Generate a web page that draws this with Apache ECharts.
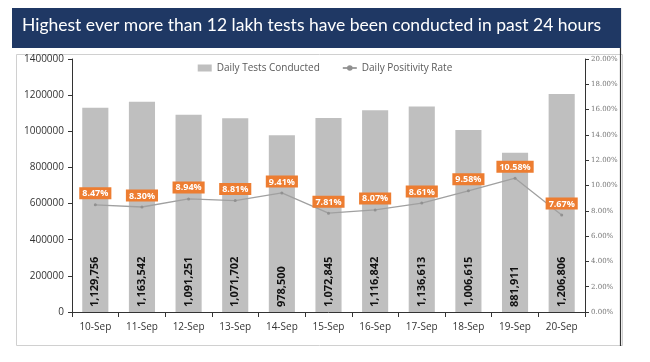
<!DOCTYPE html>
<html><head><meta charset="utf-8">
<script src="https://cdn.jsdelivr.net/npm/echarts@6/dist/echarts.min.js"></script>
<style>html,body{margin:0;padding:0;background:#fff;}#c{width:650px;height:362px;}</style>
</head><body><div id="c"></div>
<script>
const categories = ['10-Sep','11-Sep','12-Sep','13-Sep','14-Sep','15-Sep','16-Sep','17-Sep','18-Sep','19-Sep','20-Sep'];
const dailyTests = [1129756,1163542,1091251,1071702,978500,1072845,1116842,1136613,1006615,881911,1206806];
const positivityRate = [8.47,8.30,8.94,8.81,9.41,7.81,8.07,8.61,9.58,10.58,7.67];
const titleText = 'Highest ever more than 12 lakh tests have been conducted in past 24 hours';

const chart = echarts.init(document.getElementById('c'));
chart.setOption({
  animation:false,
  backgroundColor:'#fff',
  graphic:[
    {type:'rect', left:14, top:52, shape:{width:606, height:291}, style:{fill:'none', stroke:'#d0d0d0', lineWidth:1}},
    {type:'line', shape:{x1:620.5,y1:8,x2:620.5,y2:346}, style:{stroke:'#333', lineWidth:1.2}},
    {type:'rect', left:12, top:8, shape:{width:609, height:40}, style:{fill:'#1F3864'}},
    {type:'text', left:22, top:16, style:{text:titleText, fill:'#fff', font:'17.5px Lato, sans-serif'}}
  ],
  legend:{
    top:58, left:'center',
    itemWidth:14, itemHeight:7, itemGap:22,
    textStyle:{color:'#595959', fontSize:10, fontFamily:'"Open Sans", sans-serif'},
    data:[{name:'Daily Tests Conducted', icon:'rect'},{name:'Daily Positivity Rate'}]
  },
  grid:{left:72, right:65, top:59, bottom:50},
  xAxis:{
    type:'category', data:categories, boundaryGap:true,
    axisLine:{lineStyle:{color:'#333'}},
    axisTick:{show:true, lineStyle:{color:'#333'}},
    axisLabel:{color:'#333', fontSize:10, fontFamily:'"Open Sans", sans-serif', margin:10}
  },
  yAxis:[
    {type:'value', min:0, max:1400000, interval:200000,
     axisLine:{show:true, lineStyle:{color:'#333'}},
     axisTick:{show:true, length:4, lineStyle:{color:'#333'}},
     splitLine:{show:false},
     axisLabel:{color:'#333', fontSize:10, fontFamily:'"Open Sans", sans-serif', margin:8, formatter:v=>String(v)}},
    {type:'value', min:0, max:20, interval:2, position:'right',
     axisLine:{show:true, lineStyle:{color:'#333'}},
     axisTick:{show:true, length:4, lineStyle:{color:'#333'}},
     splitLine:{show:false},
     axisLabel:{color:'#777', fontSize:7, fontFamily:'"DejaVu Serif", serif', margin:6, formatter:v=>v.toFixed(2)+'%'}}
  ],
  series:[
    {name:'Daily Tests Conducted', type:'bar', data:dailyTests, barWidth:'56%',
     itemStyle:{color:'#BFBFBF'},
     label:{show:true, position:'insideBottom', rotate:90, align:'left', verticalAlign:'middle', distance:5,
       color:'#111', fontWeight:'bold', fontSize:11, fontFamily:'"Open Sans", sans-serif',
       formatter:p=>p.value.toLocaleString('en-US')}},
    {name:'Daily Positivity Rate', type:'line', yAxisIndex:1, data:positivityRate,
     symbol:'circle', symbolSize:3,
     lineStyle:{color:'#A0A0A0', width:1.3}, itemStyle:{color:'#909090'},
     label:{show:true, position:'top', distance:4, color:'#fff', fontWeight:'bold', fontSize:9,
       fontFamily:'"Open Sans", sans-serif', backgroundColor:'#ED7D31', padding:[2,3,1,3],
       formatter:p=>p.value.toFixed(2)+'%'}}
  ]
});
</script></body></html>
